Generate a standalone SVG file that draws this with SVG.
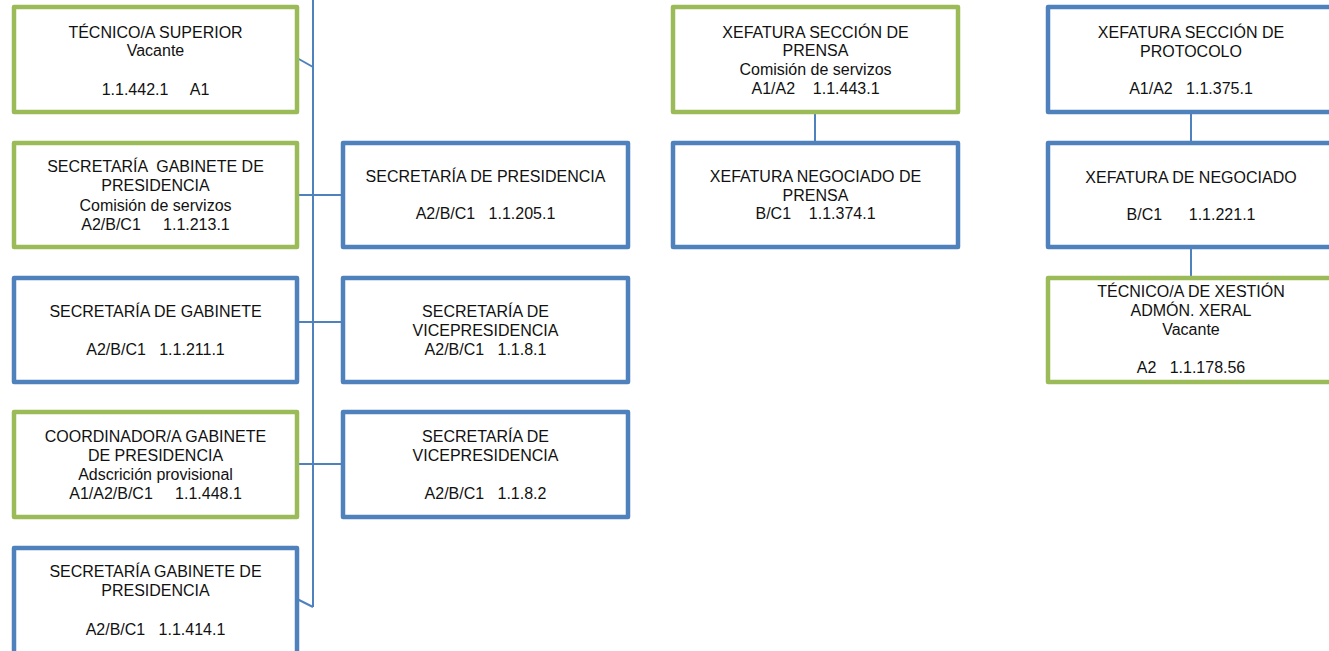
<svg xmlns="http://www.w3.org/2000/svg" width="1329" height="651" viewBox="0 0 1329 651">
<style>
.g{fill:#fff;stroke:#9BBB59;stroke-width:4.5;stroke-linejoin:round}
.b{fill:#fff;stroke:#4F81BD;stroke-width:4.5;stroke-linejoin:round}
.c{fill:none;stroke:#4F81BD;stroke-width:2}
text{font-family:"Liberation Sans",Arial,sans-serif;font-size:16px;fill:#111;text-anchor:middle;white-space:pre}
</style>
<rect width="1329" height="651" fill="#fff"/>
<g id="connectors">
<polyline class="c" points="313,0 313,607"/>
<line class="c" x1="297" y1="58" x2="313" y2="67"/>
<line class="c" x1="297" y1="599" x2="313" y2="607"/>
<line class="c" x1="297" y1="195" x2="343" y2="195"/>
<line class="c" x1="297" y1="322" x2="343" y2="322"/>
<line class="c" x1="297" y1="464" x2="343" y2="464"/>
<line class="c" x1="815" y1="112" x2="815" y2="143"/>
<line class="c" x1="1191" y1="112" x2="1191" y2="143"/>
<line class="c" x1="1191" y1="247" x2="1191" y2="278"/>
</g>
<g id="n1"><rect class="g" x="14" y="7" width="283" height="105"/>
<text x="155.5" y="38">TÉCNICO/A SUPERIOR</text><text x="155.5" y="56">Vacante</text><text x="155.5" y="95">1.1.442.1     A1</text></g>
<g id="n2"><rect class="g" x="14" y="143" width="283" height="104"/>
<text x="155.5" y="172">SECRETARÍA  GABINETE DE</text><text x="155.5" y="191">PRESIDENCIA</text><text x="155.5" y="211">Comisión de servizos</text><text x="155.5" y="230">A2/B/C1     1.1.213.1</text></g>
<g id="n3"><rect class="b" x="343" y="143" width="285" height="104"/>
<text x="485.5" y="182">SECRETARÍA DE PRESIDENCIA</text><text x="485.5" y="219">A2/B/C1   1.1.205.1</text></g>
<g id="n4"><rect class="b" x="14" y="278" width="283" height="104"/>
<text x="155.5" y="317">SECRETARÍA DE GABINETE</text><text x="155.5" y="355">A2/B/C1   1.1.211.1</text></g>
<g id="n5"><rect class="b" x="343" y="278" width="285" height="104"/>
<text x="485.5" y="317">SECRETARÍA DE</text><text x="485.5" y="336">VICEPRESIDENCIA</text><text x="485.5" y="355">A2/B/C1   1.1.8.1</text></g>
<g id="n6"><rect class="g" x="14" y="412" width="283" height="105"/>
<text x="155.5" y="442">COORDINADOR/A GABINETE</text><text x="155.5" y="461">DE PRESIDENCIA</text><text x="155.5" y="480">Adscrición provisional</text><text x="155.5" y="499">A1/A2/B/C1     1.1.448.1</text></g>
<g id="n7"><rect class="b" x="343" y="412" width="285" height="105"/>
<text x="485.5" y="442">SECRETARÍA DE</text><text x="485.5" y="461">VICEPRESIDENCIA</text><text x="485.5" y="499">A2/B/C1   1.1.8.2</text></g>
<g id="n8"><rect class="b" x="14" y="548" width="283" height="110"/>
<text x="155.5" y="577">SECRETARÍA GABINETE DE</text><text x="155.5" y="596">PRESIDENCIA</text><text x="155.5" y="635">A2/B/C1   1.1.414.1</text></g>
<g id="n9"><rect class="g" x="673" y="7" width="285" height="105"/>
<text x="815.5" y="38">XEFATURA SECCIÓN DE</text><text x="815.5" y="56">PRENSA</text><text x="815.5" y="75">Comisión de servizos</text><text x="815.5" y="94">A1/A2    1.1.443.1</text></g>
<g id="n10"><rect class="b" x="673" y="143" width="285" height="104"/>
<text x="815.5" y="182">XEFATURA NEGOCIADO DE</text><text x="815.5" y="201">PRENSA</text><text x="815.5" y="219">B/C1    1.1.374.1</text></g>
<g id="n11"><rect class="b" x="1048" y="7" width="286" height="105"/>
<text x="1191" y="38">XEFATURA SECCIÓN DE</text><text x="1191" y="57">PROTOCOLO</text><text x="1191" y="94">A1/A2   1.1.375.1</text></g>
<g id="n12"><rect class="b" x="1048" y="143" width="286" height="104"/>
<text x="1191" y="183">XEFATURA DE NEGOCIADO</text><text x="1191" y="220">B/C1      1.1.221.1</text></g>
<g id="n13"><rect class="g" x="1048" y="278" width="286" height="104"/>
<text x="1191" y="297">TÉCNICO/A DE XESTIÓN</text><text x="1191" y="316">ADMÓN. XERAL</text><text x="1191" y="335">Vacante</text><text x="1191" y="373">A2   1.1.178.56</text></g>
</svg>
